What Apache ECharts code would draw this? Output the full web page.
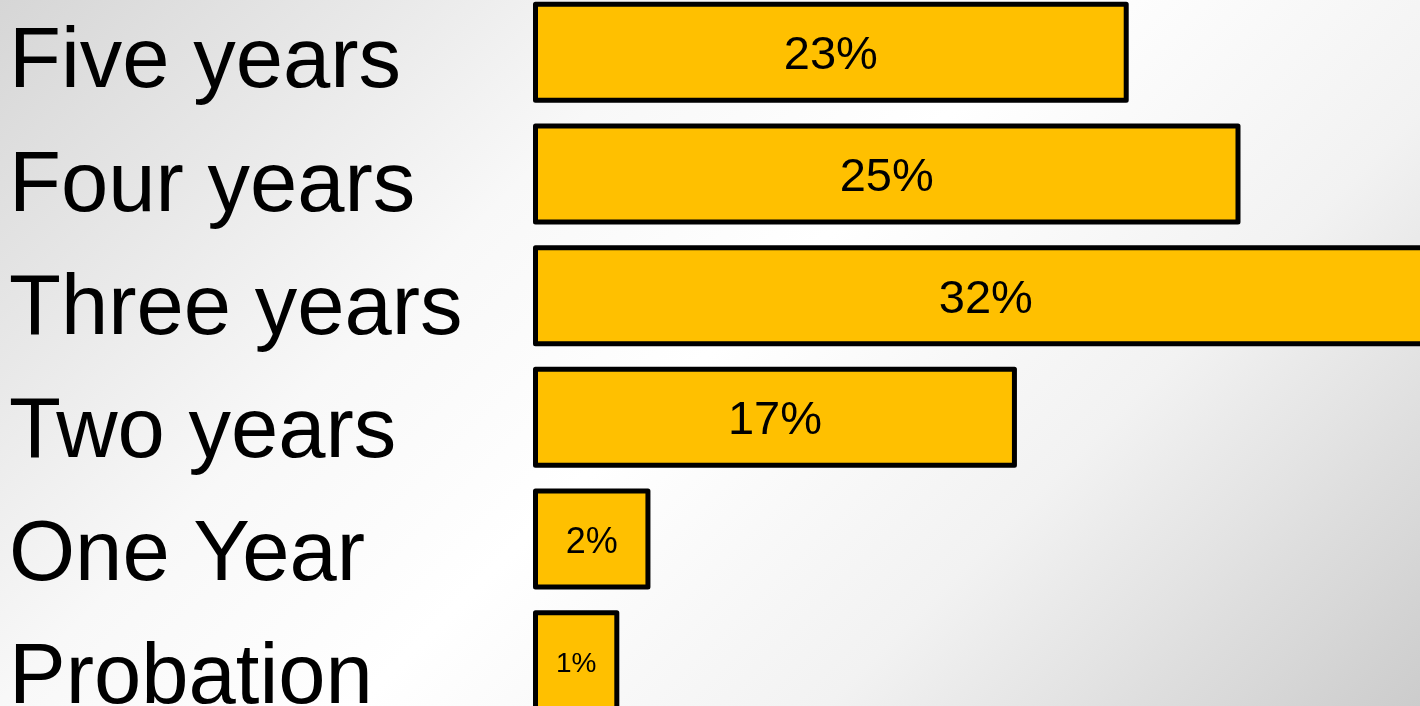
<!DOCTYPE html>
<html>
<head>
<meta charset="utf-8">
<script src="https://cdn.jsdelivr.net/npm/echarts@6/dist/echarts.min.js"></script>
<style>
html, body { margin: 0; padding: 0; }
#main { width: 1420px; height: 706px; }
</style>
</head>
<body>
<div id="main"></div>
<script>
var categories = ['Five years', 'Four years', 'Three years', 'Two years', 'One Year', 'Probation'];
// percentages written in the bars
var shares = [23, 25, 32, 17, 2, 1];
// bar lengths as drawn in the slide (not to scale with the printed numbers)
var barLengths = [21.05, 25, 32, 17.1, 4.15, 3.05];
// font size of each bar label
var labelSizes = [47, 47, 47, 47, 36, 28];

var FONT = 'Liberation Sans, Arial, sans-serif';

var myChart = echarts.init(document.getElementById('main'));

var barData = barLengths.map(function (v, i) {
    return { value: v, label: { fontSize: labelSizes[i] } };
});

var option = {
    animation: false,
    backgroundColor: {
        type: 'linear', global: true,
        x: 0, y: 0, x2: 1063, y2: 1063,
        colorStops: [
            { offset: 0, color: '#d6d6d6' },
            { offset: 0.33, color: '#f8f8f8' },
            { offset: 0.5, color: '#ffffff' },
            { offset: 0.72, color: '#f2f2f2' },
            { offset: 1, color: '#cccccc' }
        ]
    },
    grid: [
        { left: 533, right: -103.5, top: -8.6, bottom: -15.6, outerBoundsMode: 'none', containLabel: false },
        // grid only used to place the big category names
        { left: 9, width: 10, top: 2.4, bottom: -35.6, outerBoundsMode: 'none', containLabel: false }
    ],
    xAxis: [
        { type: 'value', min: 0, max: 35, show: false, gridIndex: 0 },
        { type: 'value', show: false, gridIndex: 1 }
    ],
    yAxis: [
        {
            type: 'category', data: categories, inverse: true, gridIndex: 0,
            axisLine: { show: false }, axisTick: { show: false }, axisLabel: { show: false }
        },
        {
            type: 'category', data: categories, inverse: true, gridIndex: 1,
            axisLine: { show: false }, axisTick: { show: false },
            axisLabel: {
                interval: 0, margin: 0, align: 'left', verticalAlign: 'middle',
                fontSize: 85, color: '#000', fontFamily: FONT
            }
        }
    ],
    series: [
        {
            type: 'bar',
            xAxisIndex: 0, yAxisIndex: 0,
            data: barData,
            barWidth: 101,
            itemStyle: {
                color: '#ffc000',
                borderColor: '#000',
                borderWidth: 5,
                borderJoin: 'round'
            },
            label: {
                show: true,
                position: 'inside',
                offset: [0, 4],
                color: '#000',
                fontFamily: FONT,
                formatter: function (p) {
                    return shares[p.dataIndex] + '%';
                }
            }
        }
    ]
};
myChart.setOption(option);
</script>
</body>
</html>
